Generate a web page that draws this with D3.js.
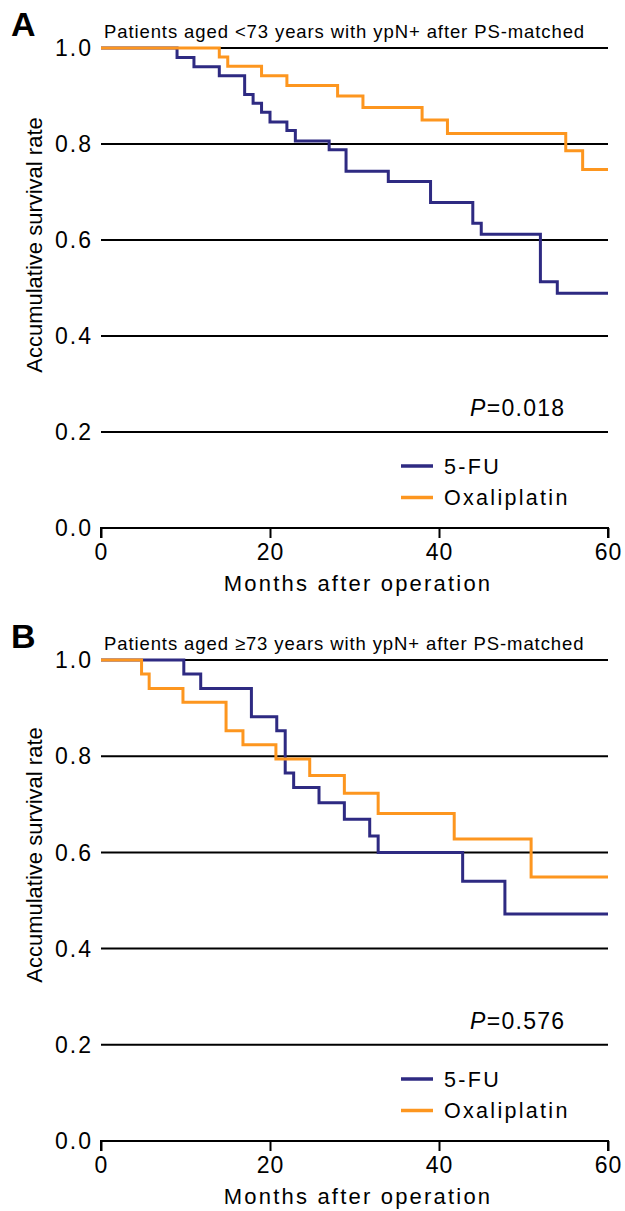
<!DOCTYPE html>
<html>
<head>
<meta charset="utf-8">
<script src="https://cdn.jsdelivr.net/npm/d3@7"></script>
<style>
  body { margin: 0; background: #fff; }
  svg { display: block; font-family: "Liberation Sans", Arial, sans-serif; }
</style>
</head>
<body>
<svg id="chart" width="625" height="1211"></svg>
<script>
// Panel A: patients aged <73 years
const aFuTime = [0, 9, 11, 14, 17, 18, 19, 20, 22, 23, 27, 29, 34, 39, 44, 45, 52, 54, 60];
const aFuSurv = [1.0, 0.980, 0.961, 0.942, 0.903, 0.885, 0.866, 0.846, 0.828, 0.806, 0.788, 0.743, 0.722, 0.678, 0.635, 0.612, 0.513, 0.489, 0.489];
const aOxTime = [0, 14, 15, 19, 22, 28, 31, 38, 41, 55, 57, 60];
const aOxSurv = [1.0, 0.981, 0.962, 0.942, 0.922, 0.900, 0.876, 0.850, 0.822, 0.786, 0.747, 0.747];

// Panel B: patients aged >=73 years
const bFuTime = [0, 9.8, 11.8, 17.8, 20.8, 21.8, 22.8, 25.8, 28.8, 31.8, 32.8, 42.8, 47.8, 60];
const bFuSurv = [1.0, 0.971, 0.941, 0.882, 0.853, 0.765, 0.735, 0.703, 0.669, 0.634, 0.600, 0.540, 0.472, 0.472];
const bOxTime = [0, 4.8, 5.7, 9.7, 14.8, 16.8, 20.7, 24.7, 28.8, 32.8, 41.8, 50.9, 60];
const bOxSurv = [1.0, 0.971, 0.941, 0.912, 0.853, 0.824, 0.794, 0.760, 0.723, 0.681, 0.628, 0.549, 0.549];

const xTicks = [0, 20, 40, 60];
const yTicks = [0.0, 0.2, 0.4, 0.6, 0.8, 1.0];
const seriesNames = ['5-FU', 'Oxaliplatin'];
const colors = ['#2e2a82', '#fd961f'];

const svg = d3.select('#chart');
svg.append('rect').attr('width', 625).attr('height', 1211).attr('fill', '#fff');

function drawPanel(opt) {
    const x = d3.scaleLinear().domain([0, 60]).range([101, 608]);
    const y = d3.scaleLinear().domain([0, 1]).range([opt.y0, opt.y1]);
    const g = svg.append('g');

    // panel letter
    g.append('text')
        .attr('x', 11).attr('y', opt.y1 - 12)
        .attr('font-size', 34).attr('font-weight', 'bold')
        .text(opt.letter);

    // title
    g.append('text')
        .attr('x', 104).attr('y', opt.y1 - 10)
        .attr('font-size', 18.5).attr('letter-spacing', 0.9)
        .text(opt.title);

    // horizontal reference lines
    g.selectAll('.grid')
        .data(yTicks.filter(d => d > 0))
        .enter().append('line')
        .attr('x1', x(0)).attr('x2', x(60))
        .attr('y1', d => y(d)).attr('y2', d => y(d))
        .attr('stroke', '#000').attr('stroke-width', 2);

    // y tick labels
    g.selectAll('.ylab')
        .data(yTicks)
        .enter().append('text')
        .attr('x', 93).attr('y', d => y(d))
        .attr('dy', '0.36em')
        .attr('text-anchor', 'end')
        .attr('font-size', 23).attr('letter-spacing', 2)
        .text(d => d.toFixed(1));

    // x axis
    const xAxis = g.append('g')
        .attr('transform', `translate(0,${y(0)})`)
        .call(d3.axisBottom(x).tickValues(xTicks).tickSize(10).tickPadding(6));
    xAxis.select('.domain').attr('d', `M${x(0)},10V0H${x(60)}V10`).attr('stroke-width', 2);
    xAxis.selectAll('.tick line').attr('stroke-width', 2);
    xAxis.selectAll('.tick text').attr('font-size', 23).attr('font-family', '"Liberation Sans", Arial, sans-serif').attr('fill', '#000').attr('letter-spacing', 1);

    g.append('text')
        .attr('x', 358).attr('y', y(0) + 63)
        .attr('text-anchor', 'middle')
        .attr('font-size', 22).attr('letter-spacing', 2.2)
        .text('Months after operation');

    g.append('text')
        .attr('transform', `translate(42,${opt.ylabCenter}) rotate(-90)`)
        .attr('text-anchor', 'middle')
        .attr('font-size', 22)
        .text('Accumulative survival rate');

    // survival curves
    const line = d3.line()
        .x(d => x(d[0]))
        .y(d => y(d[1]))
        .curve(d3.curveStepAfter);
    opt.series.forEach((s, i) => {
        g.append('path')
            .datum(d3.zip(s.time, s.surv))
            .attr('d', line)
            .attr('fill', 'none')
            .attr('stroke', colors[i])
            .attr('stroke-width', 3);
    });

    // p value
    const p = g.append('text')
        .attr('x', 470).attr('y', y(0) - 112)
        .attr('font-size', 23).attr('letter-spacing', 1.3);
    p.append('tspan').attr('font-style', 'italic').text('P');
    p.append('tspan').text('=' + opt.pval);

    // legend
    const leg = g.selectAll('.leg')
        .data(seriesNames)
        .enter().append('g')
        .attr('transform', (d, i) => `translate(401,${y(0) - 62 + i * 31.5})`);
    leg.append('line')
        .attr('x1', 0).attr('x2', 32)
        .attr('stroke', (d, i) => colors[i])
        .attr('stroke-width', 3.5);
    leg.append('text')
        .attr('x', 43).attr('dy', '0.36em')
        .attr('font-size', 21.5).attr('letter-spacing', 2.3)
        .text(d => d);
}

drawPanel({
    letter: 'A',
    title: 'Patients aged <73 years with ypN+ after PS-matched',
    y0: 528, y1: 48, ylabCenter: 245, pval: '0.018',
    series: [{ time: aFuTime, surv: aFuSurv }, { time: aOxTime, surv: aOxSurv }]
});

drawPanel({
    letter: 'B',
    title: 'Patients aged \u226573 years with ypN+ after PS-matched',
    y0: 1141, y1: 660, ylabCenter: 855, pval: '0.576',
    series: [{ time: bFuTime, surv: bFuSurv }, { time: bOxTime, surv: bOxSurv }]
});
</script>
</body>
</html>
